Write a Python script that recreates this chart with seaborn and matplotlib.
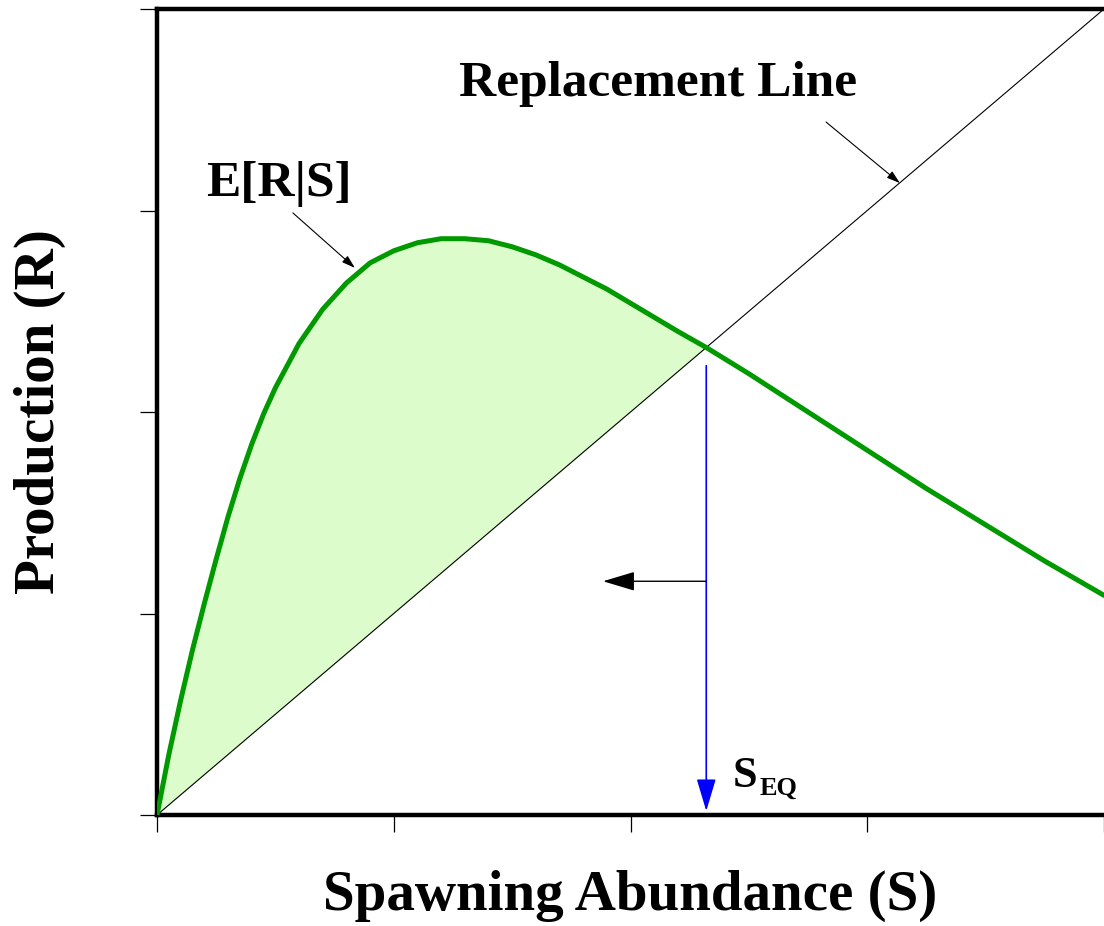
import matplotlib
matplotlib.use("Agg")
import matplotlib.pyplot as plt
import pandas as pd
import seaborn as sns

# values (S = spawning abundance, R = production)
spawners = [0, 0.05, 0.1, 0.15, 0.2, 0.25, 0.3, 0.35, 0.4, 0.45, 0.5, 0.6, 0.7,
            0.8, 0.9, 1.0, 1.1, 1.2, 1.3, 1.4, 1.5, 1.6, 1.7, 1.8, 1.9, 2.0,
            2.1, 2.2, 2.32, 2.5, 2.75, 3.0, 3.25, 3.5, 3.75, 4.0]
expected_recruits = [0, 0.30, 0.57, 0.82, 1.05, 1.27, 1.48, 1.67, 1.84, 1.99,
                     2.12, 2.34, 2.51, 2.64, 2.74, 2.80, 2.84, 2.86, 2.86, 2.85,
                     2.82, 2.78, 2.73, 2.67, 2.61, 2.54, 2.47, 2.40, 2.32, 2.19,
                     2.00, 1.81, 1.62, 1.44, 1.26, 1.09]
replacement_s = [0, 4.0]
replacement_r = [0, 4.0]
s_eq = 2.32
ticks = [0, 1, 2, 3, 4]

curve = pd.DataFrame({"S": spawners, "R": expected_recruits})
repl = pd.DataFrame({"S": replacement_s, "R": replacement_r})

sns.set_theme(style="white")
plt.rcParams["font.family"] = ["Liberation Serif", "DejaVu Serif"]
plt.rcParams["font.weight"] = "bold"
plt.rcParams["text.color"] = "black"
plt.rcParams["axes.labelcolor"] = "black"

fig = plt.figure(figsize=(11.04, 9.26), dpi=100)
ax = fig.add_axes([157 / 1104, 111 / 926, 947 / 1104, 806 / 926])

# shaded surplus between curve and replacement line
below = curve[curve["S"] <= s_eq]
ax.fill_between(below["S"], below["S"], below["R"], color="#dcfccc", lw=0, zorder=1)

sns.lineplot(data=repl, x="S", y="R", ax=ax, color="black", lw=0.8,
             estimator=None, zorder=2)
sns.lineplot(data=curve, x="S", y="R", ax=ax, color="#009900", lw=3.6,
             estimator=None, zorder=3)

ax.set_xlim(0, 4)
ax.set_ylim(0, 4)
ax.set_xticks(ticks)
ax.set_yticks(ticks)
ax.set_xticklabels([])
ax.set_yticklabels([])
ax.tick_params(direction="out", length=12, width=0.9, color="black",
               bottom=True, left=True)
for side in ["left", "bottom", "top"]:
    ax.spines[side].set_visible(True)
    ax.spines[side].set_color("black")
    ax.spines[side].set_linewidth(3.2)
ax.spines["right"].set_visible(False)

ax.set_xlabel("Spawning Abundance (S)", fontsize=41, fontweight="bold", labelpad=24)
ax.set_ylabel("Production (R)", fontsize=41, fontweight="bold", labelpad=50)

# S_eq arrow straight down and the arrow pointing left
ax.annotate("", xy=(s_eq, 0.02), xytext=(s_eq, 2.23),
            arrowprops=dict(arrowstyle="-|>,head_length=2.0,head_width=0.6",
                            color="#0000ff", lw=1.2, mutation_scale=10,
                            shrinkA=0, shrinkB=0), zorder=4)
ax.annotate("", xy=(1.884, 1.16), xytext=(s_eq, 1.16),
            arrowprops=dict(arrowstyle="-|>,head_length=2.0,head_width=0.6",
                            color="black", lw=1.0, mutation_scale=10,
                            shrinkA=0, shrinkB=0), zorder=4)

ax.text(2.43, 0.14, "S", fontsize=32, fontweight="bold", ha="left",
        va="baseline")
ax.text(2.545, 0.10, "EQ", fontsize=19, fontweight="bold", ha="left",
        va="baseline")

# labels with pointer arrows
ax.text(0.515, 3.13, "E[R|S]", fontsize=37, fontweight="bold", ha="center",
        va="center")
ax.annotate("", xy=(0.836, 2.715), xytext=(0.574, 2.988),
            arrowprops=dict(arrowstyle="-|>,head_length=0.8,head_width=0.25",
                            color="black", lw=0.8, mutation_scale=10,
                            shrinkA=0, shrinkB=0))
ax.text(2.116, 3.63, "Replacement Line", fontsize=37, fontweight="bold",
        ha="center", va="center")
ax.annotate("", xy=(3.138, 3.136), xytext=(2.826, 3.439),
            arrowprops=dict(arrowstyle="-|>,head_length=0.8,head_width=0.25",
                            color="black", lw=0.8, mutation_scale=10,
                            shrinkA=0, shrinkB=0))

fig.savefig("out.png", dpi=100)
